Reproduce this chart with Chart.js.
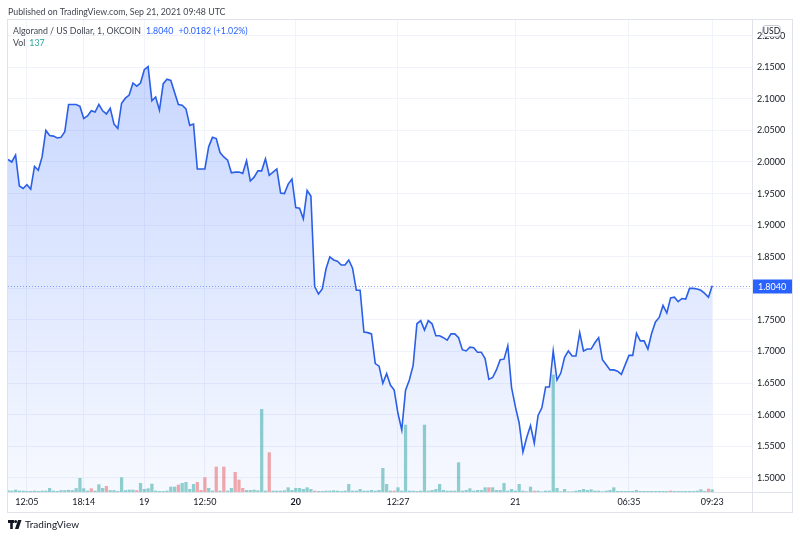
<!DOCTYPE html>
<html>
<head>
<meta charset="utf-8">
<script src="https://cdn.jsdelivr.net/npm/chart.js@4.4.0/dist/chart.umd.min.js"></script>
<style>
  html, body { margin: 0; padding: 0; background: #fff; }
  #wrap { position: relative; width: 800px; height: 538px; font-family: Lato, "Noto Sans", sans-serif; color: #131722; }
  canvas { position: absolute; left: 0; top: 0; }
  .txt { position: absolute; white-space: nowrap; font-size: 8.8px; line-height: 12px; }
</style>
</head>
<body>
<div id="wrap">
  <canvas id="chart" width="800" height="538"></canvas>
  <div class="txt" style="left:8px;top:6px;color:#434651">Published on TradingView.com, Sep 21, 2021 09:48 UTC</div>
  <div class="txt" style="left:13px;top:25px;color:#434651">Algorand / US Dollar, 1, OKCOIN<span style="color:#2962ff;margin-left:5px">1.8040</span><span style="color:#2962ff;margin-left:5px">+0.0182 (+1.02%)</span></div>
  <div class="txt" style="left:13px;top:37px;color:#434651">Vol<span style="color:#26a69a;margin-left:4px">137</span></div>
  <div class="txt" style="left:8px;top:518px;font-size:10px;color:#131722">
    <svg width="14" height="9" viewBox="0 0 14 9" style="vertical-align:-1px">
      <rect x="0" y="0" width="6" height="3" fill="#131722"/>
      <rect x="2.2" y="0" width="2.6" height="9" fill="#131722"/>
      <circle cx="7.6" cy="1.6" r="1.5" fill="#131722"/>
      <polygon points="10,0 13.5,0 10.5,9 7,9" fill="#131722"/>
    </svg><span style="margin-left:3px">TradingView</span>
  </div>
</div>
<script>
// price series (1 point per bar) and volume per bar
const closes = [
  2.004, 2.000, 2.011, 1.962, 1.958, 1.964, 1.957, 1.993, 1.987, 2.008,
  2.050, 2.042, 2.041, 2.038, 2.039, 2.048, 2.091, 2.091, 2.091, 2.088,
  2.069, 2.073, 2.081, 2.079, 2.091, 2.081, 2.076, 2.085, 2.060, 2.053,
  2.093, 2.101, 2.106, 2.125, 2.120, 2.125, 2.146, 2.151, 2.097, 2.103,
  2.082, 2.124, 2.131, 2.129, 2.110, 2.091, 2.090, 2.084, 2.058, 2.060,
  1.989, 1.989, 1.989, 2.024, 2.039, 2.037, 2.015, 2.008, 2.003, 1.983,
  1.984, 1.984, 1.982, 2.002, 1.970, 1.976, 1.986, 1.986, 2.005, 1.979,
  1.984, 1.989, 1.951, 1.950, 1.965, 1.973, 1.928, 1.927, 1.910, 1.955,
  1.946, 1.803, 1.791, 1.799, 1.831, 1.850, 1.845, 1.843, 1.837, 1.837,
  1.845, 1.832, 1.797, 1.797, 1.731, 1.730, 1.728, 1.681, 1.677, 1.650,
  1.665, 1.647, 1.639, 1.602, 1.576, 1.639, 1.655, 1.678, 1.744, 1.749,
  1.734, 1.749, 1.744, 1.725, 1.725, 1.722, 1.718, 1.728, 1.728, 1.722,
  1.703, 1.701, 1.707, 1.706, 1.699, 1.699, 1.689, 1.656, 1.659, 1.671,
  1.687, 1.688, 1.709, 1.643, 1.613, 1.587, 1.541, 1.564, 1.583, 1.555,
  1.599, 1.611, 1.644, 1.644, 1.701, 1.655, 1.666, 1.691, 1.701, 1.693,
  1.693, 1.730, 1.701, 1.704, 1.704, 1.714, 1.722, 1.687, 1.679, 1.671,
  1.671, 1.669, 1.664, 1.679, 1.694, 1.694, 1.729, 1.717, 1.717, 1.704,
  1.729, 1.747, 1.754, 1.773, 1.761, 1.785, 1.786, 1.779, 1.784, 1.783,
  1.800, 1.800, 1.799, 1.797, 1.792, 1.786, 1.804
];

const volumes = [
  90, 60, 120, 60, 60, 40, 40, 60, 40, 60,
  60, 220, 60, 40, 90, 90, 110, 90, 210, 820,
  200, 60, 200, 60, 440, 220, 340, 90, 90, 40,
  860, 90, 120, 120, 90, 520, 160, 200, 480, 60,
  40, 40, 60, 300, 300, 420, 520, 580, 160, 460,
  580, 100, 860, 220, 60, 1500, 60, 1500, 60, 220,
  1180, 720, 220, 100, 100, 120, 80, 4960, 60, 2360,
  60, 60, 60, 80, 260, 100, 220, 220, 160, 260,
  160, 60, 40, 40, 60, 60, 80, 60, 40, 60,
  460, 60, 60, 160, 60, 60, 100, 60, 100, 1420,
  460, 60, 60, 260, 60, 4020, 60, 60, 40, 60,
  4020, 60, 100, 160, 460, 100, 60, 60, 60, 1760,
  60, 100, 200, 60, 100, 100, 260, 260, 260, 100,
  100, 520, 60, 160, 60, 460, 60, 20, 300, 60,
  60, 20, 60, 60, 7020, 220, 20, 160, 20, 20,
  60, 100, 160, 100, 140, 60, 60, 20, 60, 100,
  260, 40, 40, 40, 40, 40, 100, 40, 40, 40,
  40, 40, 40, 40, 40, 60, 40, 40, 40, 40,
  40, 40, 60, 140, 40, 180, 137
];

// bars whose candle closed lower than it opened
const downBars = [22, 26, 34, 45, 50, 51, 52, 55, 57, 60, 61, 62, 69, 81, 102, 127, 139, 175, 185];

const timeIdx = [5, 20, 36, 52, 76, 103, 134, 164, 186];
const timeLabels = ['12:05', '18:14', '19', '12:50', '20', '12:27', '21', '06:35', '09:23'];
const priceTicks = [1.50, 1.55, 1.60, 1.65, 1.70, 1.75, 1.80, 1.85, 1.90, 1.95, 2.00, 2.05, 2.10, 2.15, 2.20];
const lastPrice = 1.8040;

const FONT = 'Lato, "Noto Sans", sans-serif';
const BLUE = '#2962ff';
const FRAME = '#e0e3eb';

const framePlugin = {
    id: 'frame',
    afterDraw(chart) {
        const c = chart.ctx;
        const a = chart.chartArea;
        const y = chart.scales.y;
        c.save();
        // dotted last price line
        const py = Math.round(y.getPixelForValue(lastPrice)) + 0.5;
        c.strokeStyle = 'rgba(41, 98, 255, 0.55)';
        c.lineWidth = 1;
        c.setLineDash([1, 2]);
        c.beginPath();
        c.moveTo(a.left, py);
        c.lineTo(a.right, py);
        c.stroke();
        c.setLineDash([]);

        // outer frame and pane separators
        c.strokeStyle = FRAME;
        c.strokeRect(a.left - 0.5, a.top - 0.5, 792 - a.left + 1, 512 - a.top + 1);
        c.beginPath();
        c.moveTo(a.right + 0.5, a.top);
        c.lineTo(a.right + 0.5, 512);
        c.moveTo(a.left, a.bottom + 0.5);
        c.lineTo(792, a.bottom + 0.5);
        c.stroke();

        // last price label on the scale
        c.fillStyle = BLUE;
        c.fillRect(a.right + 1, py - 7, 792 - a.right - 1, 14);
        c.fillStyle = '#fff';
        c.font = '9px ' + FONT;
        c.textBaseline = 'middle';
        c.fillText(lastPrice.toFixed(4), a.right + 6, py + 0.5);

        // currency badge, sits over the top tick label
        c.fillStyle = '#fff';
        c.strokeStyle = '#c9ccd4';
        c.beginPath();
        c.roundRect(a.right + 10.5, 25.5, 18, 11, 3);
        c.fill();
        c.stroke();
        c.fillStyle = '#131722';
        c.font = '8.5px ' + FONT;
        c.textAlign = 'center';
        c.fillText('USD', a.right + 19.5, 31.5);
        c.restore();
    }
};

const ctx = document.getElementById('chart').getContext('2d');
window.priceChart = new Chart(ctx, {
    type: 'line',
    data: {
        datasets: [{
            type: 'line',
            label: 'ALGOUSD',
            data: closes.map((v, i) => ({ x: i, y: v })),
            borderColor: '#2a5fe6',
            borderWidth: 1.6,
            pointRadius: 0,
            tension: 0,
            fill: 'start',
            backgroundColor: function (context) {
                const area = context.chart.chartArea;
                if (!area) return 'rgba(41, 98, 255, 0.15)';
                const g = context.chart.ctx.createLinearGradient(0, area.top, 0, area.bottom);
                g.addColorStop(0, 'rgba(41, 98, 255, 0.28)');
                g.addColorStop(1, 'rgba(41, 98, 255, 0.04)');
                return g;
            },
            yAxisID: 'y',
            order: 1
        }, {
            type: 'bar',
            label: 'Vol',
            data: volumes.map((v, i) => ({ x: i, y: v })),
            backgroundColor: volumes.map((v, i) => downBars.includes(i) ? 'rgba(239, 83, 80, 0.5)' : 'rgba(38, 166, 154, 0.5)'),
            barThickness: 2.6,
            yAxisID: 'yv',
            order: 2
        }]
    },
    options: {
        responsive: false,
        animation: false,
        layout: { padding: { left: 8, top: 20, right: 8, bottom: 26 } },
        plugins: { legend: { display: false }, tooltip: { enabled: false } },
        scales: {
            x: {
                type: 'linear',
                offset: false,
                min: 0,
                max: 196.5,
                afterBuildTicks: s => { s.ticks = timeIdx.map(v => ({ value: v })); },
                afterFit: s => { s.height = 20; },
                grid: { color: '#f0f3fa', drawTicks: false, offset: false },
                border: { display: false },
                ticks: {
                    padding: 5,
                    maxRotation: 0,
                    autoSkip: false,
                    color: '#131722',
                    font: c => ({ family: FONT, size: 9, weight: (c.tick && c.tick.label === '20') ? 'bold' : 'normal' }),
                    callback: v => timeLabels[timeIdx.indexOf(v)]
                }
            },
            y: {
                position: 'right',
                min: 1.4778,
                max: 2.2247,
                afterBuildTicks: s => { s.ticks = priceTicks.map(v => ({ value: v })); },
                afterFit: s => { s.width = 40; },
                grid: { color: '#f0f3fa', drawTicks: false },
                border: { display: false },
                ticks: {
                    padding: 5,
                    color: '#131722',
                    font: { family: FONT, size: 9 },
                    callback: v => v.toFixed(4)
                }
            },
            yv: {
                display: false,
                min: 0,
                max: 28320
            }
        }
    },
    plugins: [framePlugin]
});
</script>
</body>
</html>
